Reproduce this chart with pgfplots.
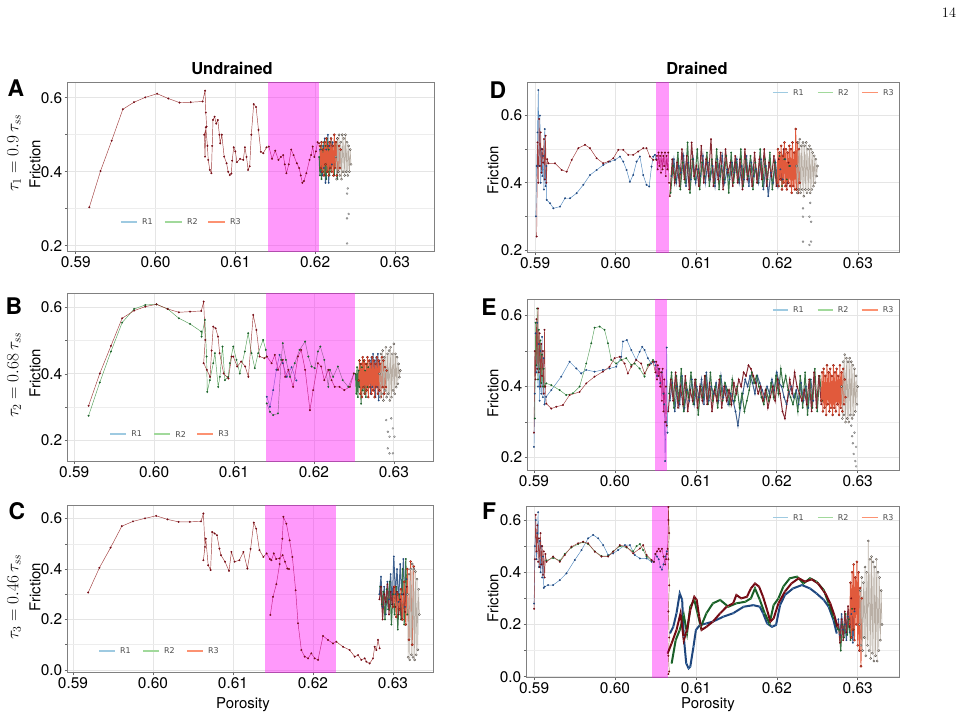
\documentclass[border=0pt]{standalone}
\usepackage{fontspec}
\setmainfont{TeX Gyre Heros}
\newfontfamily\legfont{DejaVu Sans}
\usepackage{pgfplots}
\pgfplotsset{compat=1.18}
\definecolor{r1dark}{RGB}{31,70,125}
\definecolor{r1line}{RGB}{80,135,190}
\definecolor{r2dark}{RGB}{25,95,40}
\definecolor{r2line}{RGB}{85,160,90}
\definecolor{r3dark}{RGB}{115,10,20}
\definecolor{r3line}{RGB}{160,60,60}
\definecolor{ordark}{RGB}{130,25,15}
\definecolor{orfill}{RGB}{235,75,45}
\definecolor{orline}{RGB}{225,90,60}
\definecolor{grdark}{RGB}{70,65,60}
\definecolor{grfill}{RGB}{232,224,215}
\definecolor{grline}{RGB}{185,175,165}
\definecolor{leg1}{RGB}{158,202,225}
\definecolor{leg2}{RGB}{161,217,155}
\definecolor{leg3}{RGB}{252,146,114}
\definecolor{bandc}{RGB}{255,0,245}
\pgfplotsset{
 panel/.style={anchor=south west, scale only axis,
  axis line style={draw=black!50, line width=1bp},
  xtick={0.59,0.60,0.61,0.62,0.63}, xticklabels={0.59,0.60,0.61,0.62,0.63},
  grid=both, major grid style={draw=black!10, line width=0.7bp}, minor grid style={draw=black!7, line width=0.6bp},
  tick align=outside, xtick pos=left, ytick pos=left,
  major tick length=2.5bp, minor tick length=2bp,
  every tick/.style={draw=black!60, line width=0.6bp},
  ticklabel style={font=\fontsize{15.5}{18}\selectfont},
  xticklabel style={inner sep=1.5bp},
  yticklabel style={inner sep=2bp},
  clip=true},
 s1/.style={draw=r1line, line width=0.45bp, mark=*, mark size=0.85bp, mark options={draw=r1dark, fill=r1dark, line width=0.2bp}, forget plot},
 s2/.style={draw=r2line, line width=0.45bp, mark=*, mark size=0.85bp, mark options={draw=r2dark, fill=r2dark, line width=0.2bp}, forget plot},
 s3/.style={draw=r3line, line width=0.45bp, mark=*, mark size=0.85bp, mark options={draw=r3dark, fill=r3dark, line width=0.2bp}, forget plot},
 d1/.style={draw=r1dark!85!white, line width=1bp, mark=*, mark size=0.8bp, mark options={draw=r1dark, fill=r1dark, line width=0.2bp}, forget plot},
 d2/.style={draw=r2dark!85!white, line width=1bp, mark=*, mark size=0.8bp, mark options={draw=r2dark, fill=r2dark, line width=0.2bp}, forget plot},
 d3/.style={draw=r3dark!85!white, line width=1bp, mark=*, mark size=0.8bp, mark options={draw=r3dark, fill=r3dark, line width=0.2bp}, forget plot},
 t1/.style={draw=r1dark, line width=2bp, mark=*, mark size=0.6bp, mark options={draw=r1line, fill=r1line, line width=0.1bp}, forget plot},
 t2/.style={draw=r2dark, line width=2bp, mark=*, mark size=0.6bp, mark options={draw=r2line, fill=r2line, line width=0.1bp}, forget plot},
 t3/.style={draw=r3dark, line width=2bp, mark=*, mark size=0.6bp, mark options={draw=r3line, fill=r3line, line width=0.1bp}, forget plot},
 so/.style={draw=orline, line width=0.9bp, mark=*, mark size=1.1bp, mark options={draw=ordark, fill=orfill, line width=0.3bp}, forget plot},
 sg/.style={draw=grline, line width=0.5bp, mark=*, mark size=1.1bp, mark options={draw=grdark, fill=grfill, line width=0.3bp}, forget plot},
 sgd/.style={only marks, mark=*, mark size=1bp, mark options={draw=black!55, fill=black!20, line width=0.3bp}, forget plot},
 band/.style={fill=bandc, fill opacity=0.4, draw=none, forget plot},
 legl/.style={draw=#1, line width=1.6bp, mark=none, forget plot}
}
% legend inside an axis: #1 y, #2-#3 R1 swatch x range, #4-#5 R2, #6-#7 R3 (data units)
\newcommand{\legin}[7]{%
  \addplot[draw=white, line width=0.1bp, mark=none, forget plot] coordinates {(#2,#1)(#2,#1)};
  \addplot[legl=leg1] coordinates {(#2,#1)(#3,#1)};
  \addplot[draw=white, line width=0.1bp, mark=none, forget plot] coordinates {(#4,#1)(#4,#1)};
  \addplot[legl=leg2] coordinates {(#4,#1)(#5,#1)};
  \addplot[draw=white, line width=0.1bp, mark=none, forget plot] coordinates {(#6,#1)(#6,#1)};
  \addplot[legl=leg3] coordinates {(#6,#1)(#7,#1)};
  \node[anchor=west, xshift=5bp, inner sep=0pt, font=\legfont\fontsize{8}{10}\selectfont, text opacity=0.7] at (axis cs:#3,#1) {R1};
  \node[anchor=west, xshift=5bp, inner sep=0pt, font=\legfont\fontsize{8}{10}\selectfont, text opacity=0.7] at (axis cs:#5,#1) {R2};
  \node[anchor=west, xshift=5bp, inner sep=0pt, font=\legfont\fontsize{8}{10}\selectfont, text opacity=0.7] at (axis cs:#7,#1) {R3};}
\begin{document}
\begin{tikzpicture}
\path[use as bounding box] (0bp,0bp) rectangle (965bp,718bp);
\node at (949bp,705bp) {\fontsize{14}{16}\selectfont$14$};
\node[font=\bfseries\fontsize{16.5}{20}\selectfont] at (232bp,650bp) {Undrained};
\node[font=\bfseries\fontsize{16.5}{20}\selectfont] at (697bp,650bp) {Drained};
\foreach \t/\px/\py in {A/16/630,B/14/412,C/17/207,D/498/628,E/489/411,F/489/207}
  \node[font=\bfseries\fontsize{23}{26}\selectfont] at (\px bp,\py bp) {\t};
\node[rotate=90,font=\fontsize{15}{18}\selectfont] at (35bp,554bp) {Friction};
\node[rotate=90,font=\fontsize{15}{18}\selectfont] at (35bp,345bp) {Friction};
\node[rotate=90,font=\fontsize{15}{18}\selectfont] at (35bp,131bp) {Friction};
\node[rotate=90,font=\fontsize{15}{18}\selectfont] at (493bp,548bp) {Friction};
\node[rotate=90,font=\fontsize{15}{18}\selectfont] at (493bp,325bp) {Friction};
\node[rotate=90,font=\fontsize{15}{18}\selectfont] at (493bp,120bp) {Friction};
\node[rotate=90,font=\fontsize{17}{20}\selectfont] at (14bp,565bp) {$\tau_1 = 0.9\,\tau_{ss}$};
\node[rotate=90,font=\fontsize{17}{20}\selectfont] at (14bp,343bp) {$\tau_2 = 0.68\,\tau_{ss}$};
\node[rotate=90,font=\fontsize{17}{20}\selectfont] at (14bp,121bp) {$\tau_3 = 0.46\,\tau_{ss}$};
\node[font=\fontsize{15}{18}\selectfont] at (243bp,13bp) {Porosity};
\node[font=\fontsize{15}{18}\selectfont] at (708bp,13bp) {Porosity};

% ---------------- A ----------------
\begin{axis}[panel, at={(67bp,466bp)}, width=367bp, height=169bp,
  xmin=0.5889, xmax=0.6349, ymin=0.183, ymax=0.640,
  ytick={0.2,0.4,0.6}, yticklabels={0.2,0.4,0.6}, minor ytick={0.3,0.5}]
\legin{0.2649}{0.59564}{0.59765}{0.60116}{0.60329}{0.60655}{0.60868}
\addplot[d1] coordinates {(0.6206,0.46)(0.6207,0.40)(0.6208,0.48)(0.6209,0.39)(0.6210,0.47)(0.6211,0.41)(0.6212,0.49)(0.6213,0.37)(0.6214,0.46)(0.6215,0.40)(0.6216,0.50)(0.6217,0.37)(0.6218,0.47)(0.6219,0.41)(0.6220,0.49)(0.6221,0.42)(0.6222,0.48)};
\addplot[d2] coordinates {(0.6205,0.44)(0.6206,0.39)(0.6207,0.47)(0.6208,0.38)(0.6209,0.46)(0.6210,0.40)(0.6211,0.48)(0.6212,0.39)(0.6213,0.47)(0.6214,0.38)(0.6215,0.49)(0.6216,0.40)(0.6217,0.46)(0.6218,0.39)(0.6219,0.48)(0.6220,0.40)(0.6222,0.47)(0.6224,0.39)(0.6226,0.48)(0.6228,0.38)};
\addplot[s3] coordinates {(0.5917,0.304)(0.5931,0.402)(0.5945,0.484)(0.5959,0.569)(0.5973,0.588)(0.5987,0.601)(0.6002,0.611)(0.6016,0.598)(0.6030,0.587)(0.6044,0.588)(0.6059,0.590)(0.6062,0.619)(0.6063,0.560)(0.6064,0.522)(0.6061,0.500)(0.6062,0.441)(0.6063,0.520)(0.6065,0.470)(0.6066,0.432)(0.6068,0.405)(0.6070,0.396)(0.6071,0.470)(0.6072,0.540)(0.6074,0.549)(0.6076,0.530)(0.6078,0.540)(0.6080,0.500)(0.6081,0.477)(0.6083,0.500)(0.6086,0.441)(0.6089,0.423)(0.6091,0.400)(0.6093,0.391)(0.6095,0.395)(0.6096,0.430)(0.6098,0.466)(0.6100,0.455)(0.6102,0.426)(0.6106,0.435)(0.6110,0.432)(0.6112,0.466)(0.6114,0.440)(0.6116,0.405)(0.6118,0.415)(0.6120,0.500)(0.6123,0.583)(0.6126,0.575)(0.6129,0.513)(0.6132,0.454)(0.6135,0.450)(0.6139,0.466)(0.6142,0.468)(0.6146,0.435)(0.6150,0.457)(0.6154,0.432)(0.6157,0.440)(0.6160,0.445)(0.6162,0.420)(0.6164,0.396)(0.6167,0.420)(0.6170,0.460)(0.6173,0.445)(0.6177,0.423)(0.6180,0.410)(0.6182,0.390)(0.6184,0.370)(0.6186,0.375)(0.6189,0.396)(0.6193,0.432)(0.6195,0.445)(0.6197,0.468)(0.6199,0.440)(0.6201,0.455)(0.6203,0.480)(0.6205,0.477)};
\addplot[so] coordinates {(0.6206,0.47)(0.6207,0.41)(0.6208,0.48)(0.6209,0.40)(0.6210,0.46)(0.6211,0.39)(0.6212,0.48)(0.6213,0.42)(0.6214,0.49)(0.6215,0.40)(0.6216,0.47)(0.6217,0.39)(0.6218,0.48)(0.6219,0.41)(0.6220,0.49)(0.6221,0.40)(0.6222,0.47)(0.6223,0.39)(0.6224,0.50)(0.6225,0.41)(0.6226,0.48)(0.6227,0.39)(0.6228,0.49)(0.6229,0.40)(0.6230,0.47)(0.6231,0.41)(0.6232,0.46)};
\addplot[sg] coordinates {(0.6226,0.44)(0.6227,0.38)(0.6228,0.49)(0.6229,0.40)(0.6230,0.50)(0.6231,0.39)(0.6232,0.48)(0.6233,0.38)(0.6234,0.50)(0.6235,0.40)(0.6236,0.49)(0.6237,0.39)(0.6238,0.50)(0.6239,0.40)(0.6240,0.48)(0.6241,0.39)(0.6242,0.47)(0.6243,0.40)(0.6244,0.46)(0.6245,0.42)};
\addplot[sgd] coordinates {(0.6241,0.355)(0.6240,0.341)(0.6242,0.286)(0.6240,0.274)(0.6240,0.206)};
\addplot[band] coordinates {(0.6141,0)(0.6141,1)(0.6205,1)(0.6205,0)};
\end{axis}

% ---------------- B ----------------
\begin{axis}[panel, at={(67bp,256bp)}, width=366bp, height=168bp,
  xmin=0.5891, xmax=0.6349, ymin=0.135, ymax=0.640,
  ytick={0.2,0.4,0.6}, yticklabels={0.2,0.4,0.6}, minor ytick={0.3,0.5}]
\legin{0.2190}{0.5945}{0.5965}{0.6000}{0.6020}{0.60538}{0.60738}
\addplot[s1] coordinates {(0.6141,0.331)(0.6145,0.301)(0.6149,0.351)(0.6153,0.412)(0.6157,0.457)(0.6161,0.432)(0.6166,0.391)(0.6172,0.420)(0.6178,0.380)};
\addplot[s2] coordinates {(0.5918,0.274)(0.5932,0.374)(0.5946,0.467)(0.5960,0.554)(0.5975,0.595)(0.5989,0.607)(0.6003,0.609)(0.6017,0.595)(0.6031,0.567)(0.6045,0.550)(0.6059,0.527)(0.60594,0.512)(0.60636,0.562)(0.60657,0.452)(0.60665,0.346)(0.60698,0.381)(0.6074,0.432)(0.60761,0.462)(0.60802,0.361)(0.60823,0.391)(0.60856,0.482)(0.60886,0.381)(0.60927,0.391)(0.60948,0.432)(0.6099,0.482)(0.61031,0.442)(0.61073,0.401)(0.61135,0.467)(0.61177,0.522)(0.61219,0.462)(0.6126,0.417)(0.61302,0.462)(0.61364,0.502)(0.61398,0.472)(0.6141,0.452)};
\addplot[s2] coordinates {(0.6141,0.311)(0.6145,0.286)(0.6149,0.276)(0.6155,0.281)(0.6159,0.442)(0.6161,0.492)(0.6165,0.442)(0.6170,0.391)(0.6176,0.432)(0.6182,0.472)(0.6189,0.497)(0.6193,0.452)(0.6197,0.422)(0.6201,0.417)(0.6205,0.467)(0.6208,0.482)(0.6213,0.442)(0.6218,0.361)(0.6220,0.412)(0.6224,0.391)(0.6230,0.422)(0.6236,0.381)(0.6243,0.361)(0.6250,0.401)};
\addplot[s3] coordinates {(0.5918,0.304)(0.5932,0.401)(0.5946,0.484)(0.5960,0.567)(0.5975,0.590)(0.5989,0.602)(0.6003,0.609)(0.6017,0.595)(0.6031,0.585)(0.6045,0.587)(0.6059,0.589)(0.6062,0.617)(0.6064,0.502)(0.6062,0.432)(0.6066,0.412)(0.6070,0.391)(0.6072,0.470)(0.6074,0.542)(0.6077,0.537)(0.6080,0.512)(0.6082,0.462)(0.6087,0.401)(0.6093,0.386)(0.6097,0.452)(0.6099,0.452)(0.6104,0.422)(0.6109,0.437)(0.6114,0.422)(0.6118,0.391)(0.6124,0.577)(0.6128,0.532)(0.6132,0.452)(0.6138,0.447)(0.6141,0.452)(0.6147,0.432)(0.6151,0.457)(0.6155,0.412)(0.6161,0.442)(0.6164,0.391)(0.6168,0.412)(0.6174,0.361)(0.6180,0.452)(0.6184,0.472)(0.6189,0.412)(0.6195,0.291)(0.6199,0.351)(0.6205,0.432)(0.6209,0.422)(0.6213,0.381)(0.6218,0.412)(0.6222,0.381)(0.6226,0.361)(0.6232,0.361)(0.6238,0.351)(0.6245,0.361)(0.6250,0.401)};
\addplot[d2] coordinates {(0.6252,0.40)(0.6253,0.34)(0.6254,0.42)(0.6255,0.33)(0.6256,0.41)(0.6257,0.36)(0.6258,0.43)(0.6259,0.31)(0.6260,0.42)(0.6261,0.35)(0.6262,0.44)(0.6263,0.34)(0.6264,0.41)(0.6265,0.33)(0.6266,0.43)(0.6267,0.36)(0.6268,0.42)};
\addplot[d1] coordinates {(0.6270,0.44)(0.6271,0.34)(0.6272,0.45)(0.6273,0.36)(0.6274,0.46)(0.6275,0.35)(0.6276,0.44)(0.6277,0.33)(0.6278,0.45)(0.6279,0.36)(0.6280,0.46)(0.6281,0.32)(0.6282,0.44)};
\addplot[so] coordinates {(0.6256,0.38)(0.6257,0.44)(0.6258,0.34)(0.6259,0.43)(0.6260,0.33)(0.6261,0.45)(0.6262,0.36)(0.6263,0.44)(0.6264,0.34)(0.6265,0.43)(0.6266,0.35)(0.6267,0.45)(0.6268,0.33)(0.6269,0.44)(0.6270,0.36)(0.6271,0.43)(0.6272,0.34)(0.6273,0.45)(0.6274,0.35)(0.6275,0.44)(0.6276,0.33)(0.6277,0.43)(0.6278,0.36)(0.6279,0.45)(0.6280,0.34)(0.6281,0.44)(0.6282,0.35)(0.6283,0.43)(0.6284,0.33)(0.6285,0.45)(0.6286,0.36)(0.6287,0.44)(0.6288,0.34)(0.6289,0.42)(0.6290,0.36)(0.6291,0.41)};
\addplot[sg] coordinates {(0.6282,0.40)(0.6283,0.33)(0.6284,0.46)(0.6285,0.34)(0.6286,0.47)(0.6287,0.32)(0.6288,0.45)(0.6289,0.35)(0.6290,0.48)(0.6291,0.33)(0.6292,0.46)(0.6293,0.34)(0.6294,0.47)(0.6295,0.32)(0.6296,0.48)(0.6297,0.33)(0.6298,0.46)(0.6299,0.35)(0.6300,0.49)(0.6301,0.34)(0.6302,0.46)(0.6303,0.36)(0.6304,0.45)(0.6305,0.37)(0.6306,0.43)(0.6307,0.39)(0.6308,0.41)};
\addplot[sgd] coordinates {(0.62904,0.261)(0.62925,0.226)(0.62946,0.211)(0.62925,0.176)(0.62946,0.161)(0.62988,0.161)(0.63008,0.211)(0.62967,0.266)(0.62988,0.236)};
\addplot[band] coordinates {(0.6140,0)(0.6140,1)(0.6251,1)(0.6251,0)};
\end{axis}

% ---------------- C ----------------
\begin{axis}[panel, at={(67bp,45bp)}, width=366bp, height=167bp,
  xmin=0.58925, xmax=0.6350, ymin=-0.012, ymax=0.650,
  ytick={0,0.2,0.4,0.6}, yticklabels={0.0,0.2,0.4,0.6}, minor ytick={0.1,0.3,0.5}]
\legin{0.0763}{0.59325}{0.59525}{0.59875}{0.60075}{0.60425}{0.60625}
\addplot[d1] coordinates {(0.6283,0.30)(0.6285,0.37)(0.6287,0.25)(0.6289,0.33)(0.6291,0.22)(0.6293,0.35)(0.6295,0.28)(0.6297,0.38)(0.6299,0.26)(0.6301,0.45)(0.6303,0.30)(0.6305,0.40)(0.6307,0.27)(0.6309,0.42)(0.6311,0.30)(0.6313,0.44)(0.6315,0.25)(0.6317,0.36)};
\addplot[d2] coordinates {(0.6284,0.33)(0.6286,0.26)(0.6288,0.31)(0.6290,0.20)(0.6292,0.32)(0.6294,0.24)(0.6296,0.35)(0.6298,0.18)(0.6300,0.30)(0.6302,0.22)(0.6304,0.33)(0.6306,0.16)(0.6308,0.30)(0.6310,0.20)(0.6312,0.40)(0.6314,0.18)(0.6316,0.44)(0.6318,0.22)};
\addplot[s3] coordinates {(0.5919,0.307)(0.5933,0.405)(0.5947,0.485)(0.5961,0.570)(0.5975,0.589)(0.5990,0.601)(0.6004,0.611)(0.6018,0.597)(0.6032,0.587)(0.6046,0.587)(0.6060,0.589)(0.6063,0.620)(0.6065,0.488)(0.6063,0.435)(0.6066,0.520)(0.6069,0.415)(0.6072,0.396)(0.6074,0.547)(0.6077,0.541)(0.6080,0.534)(0.6083,0.481)(0.6085,0.455)(0.6090,0.429)(0.6095,0.393)(0.6098,0.468)(0.6102,0.429)(0.6108,0.435)(0.6113,0.468)(0.6118,0.402)(0.6122,0.480)(0.6126,0.584)(0.6129,0.560)(0.6133,0.475)(0.6138,0.448)(0.6142,0.462)(0.6146,0.440)(0.6148,0.435)(0.6151,0.462)(0.6154,0.440)(0.6158,0.442)(0.6162,0.455)(0.6165,0.429)(0.6168,0.402)(0.6170,0.400)};
\addplot[s3] coordinates {(0.61467,0.218)(0.61500,0.290)(0.61542,0.340)(0.61583,0.420)(0.61617,0.520)(0.6163,0.607)(0.61667,0.580)(0.61708,0.514)(0.61742,0.448)(0.61783,0.316)(0.61813,0.185)(0.61854,0.079)(0.61896,0.053)(0.61938,0.046)(0.61979,0.066)(0.62021,0.046)(0.62063,0.040)(0.62125,0.135)(0.62188,0.119)(0.6225,0.105)(0.62292,0.112)(0.62375,0.092)(0.62458,0.079)(0.62521,0.053)(0.62563,0.059)(0.62604,0.040)(0.62646,0.046)(0.62667,0.033)(0.62708,0.026)(0.6275,0.046)(0.62771,0.092)(0.62792,0.079)(0.62813,0.119)(0.62833,0.086)};
\addplot[d3] coordinates {(0.6283,0.28)(0.6285,0.33)(0.6287,0.20)(0.6289,0.30)(0.6291,0.27)(0.6293,0.34)(0.6295,0.22)(0.6297,0.31)(0.6299,0.26)(0.6301,0.33)(0.6303,0.25)(0.6305,0.31)(0.6307,0.22)(0.6309,0.28)(0.6311,0.20)(0.6313,0.30)(0.6315,0.23)(0.6317,0.33)};
\addplot[so] coordinates {(0.6300,0.25)(0.6302,0.33)(0.6304,0.21)(0.6306,0.30)(0.6308,0.24)(0.6310,0.32)(0.6312,0.20)(0.6314,0.35)(0.6316,0.18)(0.6318,0.40)(0.6320,0.12)(0.6322,0.43)(0.6324,0.10)(0.6326,0.41)};
\addplot[sg] coordinates {(0.6318,0.30)(0.6319,0.05)(0.6320,0.38)(0.6321,0.04)(0.6322,0.40)(0.6323,0.06)(0.6324,0.42)(0.6325,0.05)(0.6326,0.40)(0.6327,0.04)(0.6328,0.39)(0.6329,0.06)(0.6330,0.36)(0.6331,0.08)(0.6332,0.32)(0.6333,0.22)};
\addplot[band] coordinates {(0.6140,-1)(0.6140,1)(0.6229,1)(0.6229,-1)};
\end{axis}

% ---------------- D ----------------
\begin{axis}[panel, at={(527bp,465bp)}, width=372bp, height=170bp,
  xmin=0.5890, xmax=0.6351, ymin=0.191, ymax=0.697,
  ytick={0.2,0.4,0.6}, yticklabels={0.2,0.4,0.6}, minor ytick={0.3,0.5}]
\legin{0.6685}{0.61947}{0.62133}{0.62505}{0.62690}{0.63050}{0.63248}
\addplot[s1] coordinates {(0.5901,0.30)(0.5902,0.45)(0.5903,0.55)(0.5904,0.676)(0.5905,0.45)(0.5906,0.60)(0.5907,0.40)(0.5908,0.50)(0.5909,0.42)(0.5910,0.48)(0.5911,0.38)(0.5912,0.56)(0.5913,0.39)(0.5914,0.45)(0.59144,0.349)(0.59186,0.339)(0.59227,0.324)(0.59309,0.329)(0.59371,0.354)(0.59433,0.354)(0.59515,0.369)(0.59598,0.394)(0.5968,0.423)(0.59763,0.438)(0.59845,0.453)(0.59928,0.463)(0.5999,0.468)(0.60052,0.478)(0.60093,0.463)(0.60134,0.438)(0.60175,0.403)(0.60216,0.423)(0.60258,0.463)(0.60299,0.478)(0.6034,0.423)(0.60381,0.394)(0.60414,0.389)(0.60443,0.448)(0.60464,0.478)(0.60485,0.483)(0.6050,0.470)};
\addplot[d1] coordinates {(0.6069,0.42)(0.6072,0.47)(0.6075,0.40)(0.6078,0.45)(0.6081,0.43)(0.6084,0.48)(0.6087,0.39)(0.6090,0.46)(0.6093,0.41)(0.6096,0.47)(0.6099,0.40)(0.6102,0.44)(0.6105,0.42)(0.6108,0.48)(0.6111,0.40)(0.6114,0.46)(0.6117,0.41)(0.6120,0.45)(0.6123,0.39)(0.6126,0.47)(0.6129,0.42)(0.6132,0.48)(0.6135,0.40)(0.6138,0.44)(0.6141,0.41)(0.6144,0.46)(0.6147,0.43)(0.6150,0.47)(0.6153,0.40)(0.6156,0.45)(0.6159,0.41)(0.6162,0.48)(0.6165,0.39)(0.6168,0.46)(0.6171,0.42)(0.6174,0.44)(0.6177,0.40)(0.6180,0.47)(0.6183,0.38)(0.6186,0.45)(0.6189,0.36)(0.6192,0.43)(0.6195,0.40)(0.6198,0.46)(0.6201,0.39)(0.6204,0.44)(0.6207,0.41)(0.6210,0.47)(0.6213,0.40)(0.6216,0.45)};
\addplot[d2] coordinates {(0.6068,0.37)(0.6071,0.45)(0.6074,0.41)(0.6077,0.49)(0.6080,0.38)(0.6083,0.46)(0.6086,0.40)(0.6089,0.52)(0.6092,0.37)(0.6095,0.47)(0.6098,0.41)(0.6101,0.50)(0.6104,0.38)(0.6107,0.46)(0.6110,0.42)(0.6113,0.49)(0.6116,0.39)(0.6119,0.47)(0.6122,0.40)(0.6125,0.50)(0.6128,0.38)(0.6131,0.45)(0.6134,0.41)(0.6137,0.48)(0.6140,0.37)(0.6143,0.49)(0.6146,0.40)(0.6149,0.46)(0.6152,0.41)(0.6155,0.50)(0.6158,0.39)(0.6161,0.47)(0.6164,0.42)(0.6167,0.48)(0.6170,0.38)(0.6173,0.46)(0.6176,0.40)(0.6179,0.50)(0.6182,0.39)(0.6185,0.47)(0.6188,0.41)(0.6191,0.49)(0.6194,0.38)(0.6197,0.46)(0.6200,0.40)(0.6203,0.48)(0.6206,0.39)(0.6209,0.47)(0.6212,0.41)(0.6215,0.45)};
\addplot[s3] coordinates {(0.5902,0.24)(0.5903,0.52)(0.5904,0.40)(0.5905,0.59)(0.5906,0.45)(0.5907,0.55)(0.5908,0.43)(0.5909,0.50)(0.5910,0.46)(0.5911,0.53)(0.5912,0.41)(0.5913,0.54)(0.5914,0.40)(0.5915,0.47)(0.59165,0.458)(0.59247,0.458)(0.5933,0.438)(0.59392,0.433)(0.59454,0.468)(0.59536,0.503)(0.59619,0.513)(0.5968,0.503)(0.59763,0.473)(0.59845,0.458)(0.59907,0.463)(0.59969,0.473)(0.60031,0.498)(0.60093,0.498)(0.60155,0.483)(0.60216,0.483)(0.60278,0.493)(0.6034,0.503)(0.60381,0.503)(0.60423,0.478)(0.60464,0.468)(0.60505,0.468)(0.6051,0.48)(0.6052,0.44)(0.6053,0.49)(0.6054,0.45)(0.6055,0.48)(0.6056,0.43)(0.6057,0.49)(0.6058,0.44)(0.6059,0.48)(0.6060,0.45)(0.6061,0.49)(0.6062,0.42)(0.6063,0.48)(0.6064,0.44)(0.6065,0.49)(0.6066,0.40)};
\addplot[d3] coordinates {(0.6067,0.36)(0.6070,0.47)(0.6073,0.40)(0.6076,0.46)(0.6079,0.39)(0.6082,0.50)(0.6085,0.41)(0.6088,0.48)(0.6091,0.38)(0.6094,0.52)(0.6097,0.42)(0.6100,0.45)(0.6103,0.39)(0.6106,0.51)(0.6109,0.40)(0.6112,0.47)(0.6115,0.42)(0.6118,0.53)(0.6121,0.39)(0.6124,0.46)(0.6127,0.41)(0.6130,0.49)(0.6133,0.38)(0.6136,0.50)(0.6139,0.43)(0.6142,0.46)(0.6145,0.39)(0.6148,0.48)(0.6151,0.40)(0.6154,0.47)(0.6157,0.38)(0.6160,0.50)(0.6163,0.41)(0.6166,0.45)(0.6169,0.39)(0.6172,0.49)(0.6175,0.40)(0.6178,0.47)(0.6181,0.41)(0.6184,0.50)(0.6187,0.39)(0.6190,0.46)(0.6193,0.42)(0.6196,0.48)(0.6199,0.39)(0.6202,0.47)(0.6205,0.41)(0.6208,0.50)(0.6211,0.39)(0.6214,0.46)};
\addplot[so] coordinates {(0.6200,0.40)(0.6201,0.50)(0.6202,0.39)(0.6203,0.49)(0.6204,0.41)(0.6205,0.51)(0.6206,0.38)(0.6207,0.48)(0.6208,0.40)(0.6209,0.52)(0.6210,0.39)(0.6211,0.50)(0.6212,0.38)(0.6213,0.49)(0.6214,0.40)(0.6215,0.51)(0.6216,0.39)(0.6217,0.50)(0.6218,0.37)(0.6219,0.52)(0.6220,0.39)(0.6221,0.49)(0.6222,0.38)(0.6223,0.56)(0.6224,0.38)(0.6225,0.52)(0.6226,0.37)(0.6227,0.50)(0.6228,0.40)};
\addplot[sg] coordinates {(0.6224,0.45)(0.6225,0.37)(0.6226,0.52)(0.6227,0.38)(0.6228,0.53)(0.6229,0.37)(0.6230,0.51)(0.6231,0.38)(0.6232,0.52)(0.6233,0.36)(0.6234,0.51)(0.6235,0.38)(0.6236,0.52)(0.6237,0.37)(0.6238,0.50)(0.6239,0.38)(0.6240,0.51)(0.6241,0.37)(0.6242,0.50)(0.6243,0.38)(0.6244,0.49)(0.6245,0.39)(0.6246,0.48)(0.6247,0.40)(0.6248,0.47)(0.6249,0.42)(0.6250,0.45)};
\addplot[sgd] coordinates {(0.6232,0.324)(0.6232,0.299)(0.6232,0.225)(0.6240,0.299)(0.6242,0.284)(0.6240,0.215)(0.6242,0.225)(0.6241,0.34)};
\addplot[band] coordinates {(0.6050,0)(0.6050,1)(0.6066,1)(0.6066,0)};
\end{axis}

% ---------------- E ----------------
\begin{axis}[panel, at={(527bp,247bp)}, width=372bp, height=171bp,
  xmin=0.58914, xmax=0.6351, ymin=0.162, ymax=0.644,
  ytick={0.2,0.4,0.6}, yticklabels={0.2,0.4,0.6}, minor ytick={0.3,0.5}]
\legin{0.6161}{0.61951}{0.62136}{0.62506}{0.62691}{0.63049}{0.63247}
\addplot[s1] coordinates {(0.5900,0.23)(0.5901,0.38)(0.5902,0.55)(0.5903,0.44)(0.5904,0.58)(0.5905,0.40)(0.5906,0.52)(0.5907,0.36)(0.5908,0.50)(0.5909,0.38)(0.5910,0.54)(0.5911,0.37)(0.5912,0.48)(0.5913,0.35)(0.5915,0.371)(0.59214,0.390)(0.59337,0.428)(0.5944,0.470)(0.59523,0.451)(0.59584,0.437)(0.59646,0.447)(0.59749,0.442)(0.59852,0.447)(0.59934,0.451)(0.60016,0.456)(0.60078,0.484)(0.60099,0.527)(0.60148,0.531)(0.60202,0.503)(0.60263,0.475)(0.60305,0.498)(0.60337,0.512)(0.60366,0.503)(0.60407,0.480)(0.60449,0.465)(0.6049,0.470)(0.6050,0.46)(0.6052,0.43)(0.6054,0.45)(0.6056,0.41)(0.6058,0.44)(0.6060,0.38)(0.6061,0.35)(0.6062,0.19)(0.6063,0.30)(0.6064,0.51)(0.6065,0.27)};
\addplot[d1] coordinates {(0.6068,0.36)(0.6071,0.41)(0.6074,0.33)(0.6077,0.40)(0.6080,0.35)(0.6083,0.43)(0.6086,0.34)(0.6089,0.39)(0.6092,0.36)(0.6095,0.42)(0.6098,0.35)(0.6101,0.40)(0.6104,0.37)(0.6107,0.42)(0.6110,0.35)(0.6113,0.44)(0.6116,0.36)(0.6119,0.40)(0.6122,0.38)(0.6125,0.41)(0.6128,0.36)(0.6131,0.43)(0.6134,0.37)(0.6137,0.40)(0.6140,0.35)(0.6143,0.38)(0.6146,0.36)(0.6149,0.33)(0.6152,0.29)(0.6155,0.34)(0.6158,0.38)(0.6161,0.42)(0.6164,0.40)(0.6167,0.43)(0.6170,0.41)(0.6173,0.38)(0.6176,0.43)(0.6179,0.41)(0.6182,0.39)(0.6185,0.37)(0.6188,0.40)(0.6191,0.38)(0.6194,0.42)(0.6197,0.39)(0.6200,0.44)(0.6203,0.41)(0.6206,0.40)(0.6209,0.37)(0.6212,0.35)(0.6215,0.38)(0.6218,0.40)(0.6221,0.37)(0.6224,0.39)(0.6227,0.35)(0.6230,0.41)(0.6233,0.36)(0.6236,0.40)(0.6239,0.34)(0.6242,0.42)(0.6245,0.36)};
\addplot[s2] coordinates {(0.5901,0.31)(0.5902,0.58)(0.5903,0.46)(0.5904,0.62)(0.5905,0.42)(0.5906,0.56)(0.5907,0.45)(0.5908,0.53)(0.5909,0.41)(0.5910,0.49)(0.5911,0.40)(0.5912,0.45)(0.5913,0.40)(0.59152,0.409)(0.59214,0.404)(0.59317,0.390)(0.59399,0.376)(0.59481,0.381)(0.59564,0.400)(0.59646,0.465)(0.59708,0.522)(0.59749,0.566)(0.59811,0.569)(0.59872,0.560)(0.59914,0.522)(0.59955,0.475)(0.60016,0.465)(0.60078,0.475)(0.6014,0.480)(0.60202,0.461)(0.60243,0.465)(0.60305,0.451)(0.60366,0.428)(0.60407,0.461)(0.6047,0.475)};
\addplot[d2] coordinates {(0.6067,0.38)(0.6070,0.44)(0.6073,0.34)(0.6076,0.43)(0.6079,0.36)(0.6082,0.45)(0.6085,0.33)(0.6088,0.41)(0.6091,0.37)(0.6094,0.44)(0.6097,0.35)(0.6100,0.42)(0.6103,0.32)(0.6106,0.40)(0.6109,0.37)(0.6112,0.43)(0.6115,0.35)(0.6118,0.44)(0.6121,0.36)(0.6124,0.40)(0.6127,0.34)(0.6130,0.43)(0.6133,0.36)(0.6136,0.41)(0.6139,0.39)(0.6142,0.35)(0.6145,0.42)(0.6148,0.36)(0.6151,0.40)(0.6154,0.34)(0.6157,0.38)(0.6160,0.33)(0.6163,0.36)(0.6166,0.39)(0.6169,0.44)(0.6172,0.41)(0.6175,0.43)(0.6178,0.40)(0.6181,0.37)(0.6184,0.35)(0.6187,0.39)(0.6190,0.36)(0.6193,0.41)(0.6196,0.37)(0.6199,0.43)(0.6202,0.38)(0.6205,0.45)(0.6208,0.40)(0.6211,0.43)(0.6214,0.39)(0.6217,0.37)(0.6220,0.35)(0.6223,0.38)(0.6226,0.33)(0.6229,0.43)(0.6232,0.34)(0.6235,0.44)(0.6238,0.32)(0.6241,0.42)(0.6244,0.34)(0.6247,0.45)(0.6250,0.33)(0.6253,0.43)(0.6256,0.36)};
\addplot[s3] coordinates {(0.5900,0.27)(0.5901,0.50)(0.5902,0.42)(0.5903,0.59)(0.5904,0.45)(0.5905,0.62)(0.5906,0.44)(0.5907,0.55)(0.5908,0.40)(0.5909,0.52)(0.5910,0.43)(0.5911,0.50)(0.5912,0.38)(0.5913,0.56)(0.5914,0.40)(0.59152,0.352)(0.59214,0.338)(0.59276,0.343)(0.59358,0.348)(0.5944,0.376)(0.59564,0.385)(0.59646,0.409)(0.59749,0.428)(0.59852,0.442)(0.59934,0.456)(0.59996,0.480)(0.60058,0.484)(0.60119,0.465)(0.6016,0.437)(0.60202,0.456)(0.60263,0.475)(0.60325,0.465)(0.60366,0.437)(0.60428,0.461)(0.6047,0.470)(0.6050,0.44)(0.6051,0.47)(0.6052,0.42)(0.6053,0.46)(0.6054,0.43)(0.6055,0.45)(0.6056,0.40)(0.6057,0.44)(0.6058,0.36)(0.6059,0.45)(0.6060,0.33)(0.6061,0.42)(0.6062,0.30)(0.6063,0.40)(0.6064,0.29)};
\addplot[d3] coordinates {(0.6066,0.33)(0.6069,0.42)(0.6072,0.36)(0.6075,0.44)(0.6078,0.34)(0.6081,0.40)(0.6084,0.35)(0.6087,0.43)(0.6090,0.33)(0.6093,0.39)(0.6096,0.36)(0.6099,0.42)(0.6102,0.34)(0.6105,0.40)(0.6108,0.36)(0.6111,0.43)(0.6114,0.35)(0.6117,0.41)(0.6120,0.33)(0.6123,0.39)(0.6126,0.36)(0.6129,0.42)(0.6132,0.34)(0.6135,0.40)(0.6138,0.36)(0.6141,0.39)(0.6144,0.35)(0.6147,0.41)(0.6150,0.38)(0.6153,0.42)(0.6156,0.40)(0.6159,0.44)(0.6162,0.43)(0.6165,0.46)(0.6168,0.45)(0.6171,0.43)(0.6174,0.41)(0.6177,0.38)(0.6180,0.40)(0.6183,0.36)(0.6186,0.39)(0.6189,0.34)(0.6192,0.37)(0.6195,0.40)(0.6198,0.36)(0.6201,0.42)(0.6204,0.38)(0.6207,0.33)(0.6210,0.31)(0.6213,0.36)(0.6216,0.42)(0.6219,0.38)(0.6222,0.44)(0.6225,0.40)(0.6228,0.38)(0.6231,0.36)(0.6234,0.39)(0.6237,0.35)(0.6240,0.42)(0.6243,0.33)(0.6246,0.44)(0.6249,0.34)(0.6252,0.43)(0.6255,0.35)};
\addplot[so] coordinates {(0.6255,0.36)(0.6256,0.44)(0.6257,0.33)(0.6258,0.45)(0.6259,0.34)(0.6260,0.43)(0.6261,0.32)(0.6262,0.46)(0.6263,0.35)(0.6264,0.44)(0.6265,0.33)(0.6266,0.45)(0.6267,0.34)(0.6268,0.43)(0.6269,0.32)(0.6270,0.46)(0.6271,0.34)(0.6272,0.44)(0.6273,0.33)(0.6274,0.45)(0.6275,0.35)(0.6276,0.43)(0.6277,0.32)(0.6278,0.46)(0.6279,0.34)(0.6280,0.44)(0.6281,0.33)(0.6282,0.45)(0.6283,0.35)(0.6284,0.42)(0.6285,0.37)};
\addplot[sg] coordinates {(0.6280,0.40)(0.6281,0.31)(0.6282,0.47)(0.6283,0.32)(0.6284,0.49)(0.6285,0.30)(0.6286,0.48)(0.6287,0.31)(0.6288,0.47)(0.6289,0.30)(0.6290,0.48)(0.6291,0.32)(0.6292,0.47)(0.6293,0.31)(0.6294,0.46)(0.6295,0.32)(0.6296,0.45)(0.6297,0.33)(0.6298,0.43)(0.6299,0.35)(0.6300,0.40)};
\addplot[sgd] coordinates {(0.6292,0.29)(0.6293,0.26)(0.6294,0.24)(0.6295,0.21)(0.6297,0.19)(0.6298,0.175)(0.6296,0.27)(0.6298,0.23)};
\addplot[band] coordinates {(0.6049,0)(0.6049,1)(0.6064,1)(0.6064,0)};
\end{axis}

% ---------------- F ----------------
\begin{axis}[panel, at={(526bp,40bp)}, width=373bp, height=171bp,
  xmin=0.5890, xmax=0.6351, ymin=-0.005, ymax=0.650,
  ytick={0,0.2,0.4,0.6}, yticklabels={0.0,0.2,0.4,0.6}, minor ytick={0.1,0.3,0.5}]
\legin{0.6103}{0.61951}{0.62136}{0.62506}{0.62691}{0.63049}{0.63247}
\addplot[s1] coordinates {(0.5900,0.28)(0.5901,0.50)(0.5902,0.60)(0.5903,0.45)(0.5904,0.55)(0.5905,0.63)(0.5906,0.42)(0.5907,0.52)(0.5908,0.40)(0.5909,0.50)(0.5910,0.38)(0.5911,0.46)(0.5912,0.34)(0.59132,0.345)(0.59173,0.351)(0.59235,0.351)(0.59318,0.370)(0.594,0.396)(0.59503,0.447)(0.59586,0.485)(0.59668,0.530)(0.5973,0.543)(0.59792,0.530)(0.59854,0.504)(0.59915,0.466)(0.59977,0.472)(0.60039,0.485)(0.60122,0.504)(0.60184,0.504)(0.60245,0.466)(0.60307,0.453)(0.6039,0.453)(0.60452,0.440)(0.6048,0.44)(0.6050,0.47)(0.6052,0.46)(0.6054,0.45)(0.6056,0.42)(0.6058,0.41)(0.6060,0.43)(0.6062,0.46)(0.6064,0.48)};
\addplot[t1] coordinates {(0.6068,0.166)(0.6072,0.191)(0.6076,0.243)(0.6080,0.319)(0.6083,0.294)(0.6085,0.153)(0.6088,0.051)(0.6091,0.032)(0.6093,0.038)(0.6097,0.115)(0.6100,0.179)(0.6105,0.198)(0.6113,0.204)(0.6121,0.211)(0.6134,0.230)(0.6146,0.243)(0.6159,0.268)(0.6171,0.274)(0.6179,0.268)(0.6183,0.243)(0.6188,0.204)(0.6194,0.191)(0.6199,0.198)(0.6204,0.274)(0.6210,0.313)(0.6220,0.338)(0.6231,0.351)(0.6241,0.338)(0.6249,0.319)(0.6258,0.294)(0.6264,0.268)(0.6270,0.217)(0.6274,0.166)};
\addplot[s2] coordinates {(0.59153,0.445)(0.59235,0.455)(0.59318,0.445)(0.59379,0.470)(0.59462,0.495)(0.59544,0.508)(0.59606,0.515)(0.59668,0.508)(0.59751,0.480)(0.59833,0.462)(0.59915,0.462)(0.59977,0.480)(0.6006,0.500)(0.60142,0.495)(0.60225,0.480)(0.60266,0.500)(0.60307,0.508)(0.60348,0.485)(0.6039,0.460)(0.60452,0.445)};
\addplot[t2] coordinates {(0.6070,0.051)(0.6075,0.140)(0.6080,0.179)(0.6085,0.236)(0.6089,0.166)(0.6093,0.268)(0.6098,0.294)(0.6102,0.243)(0.6106,0.191)(0.6113,0.243)(0.6121,0.281)(0.6130,0.294)(0.6140,0.268)(0.6150,0.281)(0.6161,0.287)(0.6168,0.300)(0.6173,0.338)(0.6179,0.294)(0.6185,0.243)(0.6191,0.204)(0.6196,0.274)(0.6202,0.300)(0.6208,0.345)(0.6216,0.377)(0.6225,0.383)(0.6233,0.357)(0.6241,0.377)(0.6249,0.364)(0.6258,0.332)(0.6264,0.281)(0.6270,0.230)(0.6276,0.179)};
\addplot[s3] coordinates {(0.5900,0.26)(0.5901,0.45)(0.5902,0.62)(0.5903,0.48)(0.5904,0.58)(0.5905,0.44)(0.5906,0.53)(0.5907,0.42)(0.5908,0.55)(0.5909,0.43)(0.5910,0.50)(0.5911,0.39)(0.5912,0.48)(0.5913,0.38)(0.5914,0.47)(0.59153,0.440)(0.59235,0.460)(0.59318,0.440)(0.59379,0.466)(0.59462,0.498)(0.59544,0.511)(0.59606,0.517)(0.59668,0.511)(0.59751,0.479)(0.59833,0.460)(0.59915,0.460)(0.59977,0.479)(0.6006,0.504)(0.60142,0.498)(0.60225,0.472)(0.60307,0.491)(0.60348,0.504)(0.6039,0.466)(0.60452,0.447)(0.6048,0.44)(0.6050,0.47)(0.6052,0.48)(0.6054,0.49)(0.6056,0.48)(0.6058,0.49)(0.6060,0.46)(0.6062,0.43)(0.6063,0.45)(0.6064,0.47)(0.6065,0.49)(0.6066,0.60)(0.6066,0.65)(0.6067,0.55)(0.6066,0.45)(0.6067,0.35)(0.6066,0.25)(0.6067,0.15)(0.6066,0.08)(0.6067,0.02)(0.6066,0.01)};
\addplot[t3] coordinates {(0.6065,0.089)(0.6070,0.128)(0.6076,0.179)(0.6081,0.243)(0.6085,0.140)(0.6089,0.179)(0.6093,0.255)(0.6098,0.306)(0.6101,0.294)(0.6104,0.230)(0.6107,0.179)(0.6113,0.191)(0.6121,0.211)(0.6130,0.243)(0.6138,0.268)(0.6146,0.281)(0.6150,0.313)(0.6156,0.300)(0.6163,0.306)(0.6168,0.338)(0.6173,0.357)(0.6178,0.345)(0.6183,0.306)(0.6188,0.255)(0.6192,0.211)(0.6196,0.223)(0.6202,0.281)(0.6210,0.326)(0.6218,0.357)(0.6227,0.377)(0.6235,0.364)(0.6243,0.373)(0.6251,0.357)(0.6260,0.319)(0.6266,0.281)(0.6271,0.236)(0.6275,0.191)};
\addplot[d1] coordinates {(0.6276,0.22)(0.6278,0.16)(0.6280,0.24)(0.6282,0.18)(0.6284,0.20)(0.6286,0.14)(0.6288,0.23)(0.6290,0.17)(0.6292,0.24)(0.6294,0.13)(0.6296,0.25)};
\addplot[d2] coordinates {(0.6277,0.18)(0.6279,0.10)(0.6281,0.20)(0.6283,0.15)(0.6285,0.24)(0.6287,0.16)(0.6289,0.22)(0.6291,0.14)(0.6293,0.26)(0.6295,0.18)};
\addplot[d3] coordinates {(0.6276,0.20)(0.6278,0.13)(0.6280,0.22)(0.6282,0.14)(0.6284,0.25)(0.6286,0.17)(0.6288,0.27)(0.6290,0.19)(0.6292,0.30)(0.6294,0.18)(0.6296,0.26)};
\addplot[so] coordinates {(0.6290,0.20)(0.6291,0.36)(0.6292,0.15)(0.6293,0.40)(0.6294,0.18)(0.6295,0.43)(0.6296,0.14)(0.6297,0.38)(0.6298,0.20)(0.6299,0.44)(0.6300,0.12)(0.6301,0.40)(0.6302,0.10)(0.6303,0.34)(0.6304,0.04)(0.6305,0.30)};
\addplot[sg] coordinates {(0.6302,0.20)(0.6303,0.33)(0.6304,0.12)(0.6305,0.38)(0.6306,0.10)(0.6307,0.36)(0.6308,0.15)(0.6309,0.42)(0.6310,0.08)(0.6311,0.40)(0.6312,0.12)(0.6313,0.52)(0.6314,0.10)(0.6315,0.45)(0.6316,0.07)(0.6317,0.46)(0.6318,0.09)(0.6319,0.44)(0.6320,0.06)(0.6321,0.42)(0.6322,0.08)(0.6323,0.45)(0.6324,0.06)(0.6325,0.40)(0.6326,0.10)(0.6327,0.38)(0.6328,0.14)(0.6329,0.33)(0.6330,0.20)};
\addplot[band] coordinates {(0.6046,-1)(0.6046,1)(0.6066,1)(0.6066,-1)};
\end{axis}
\end{tikzpicture}
\end{document}
